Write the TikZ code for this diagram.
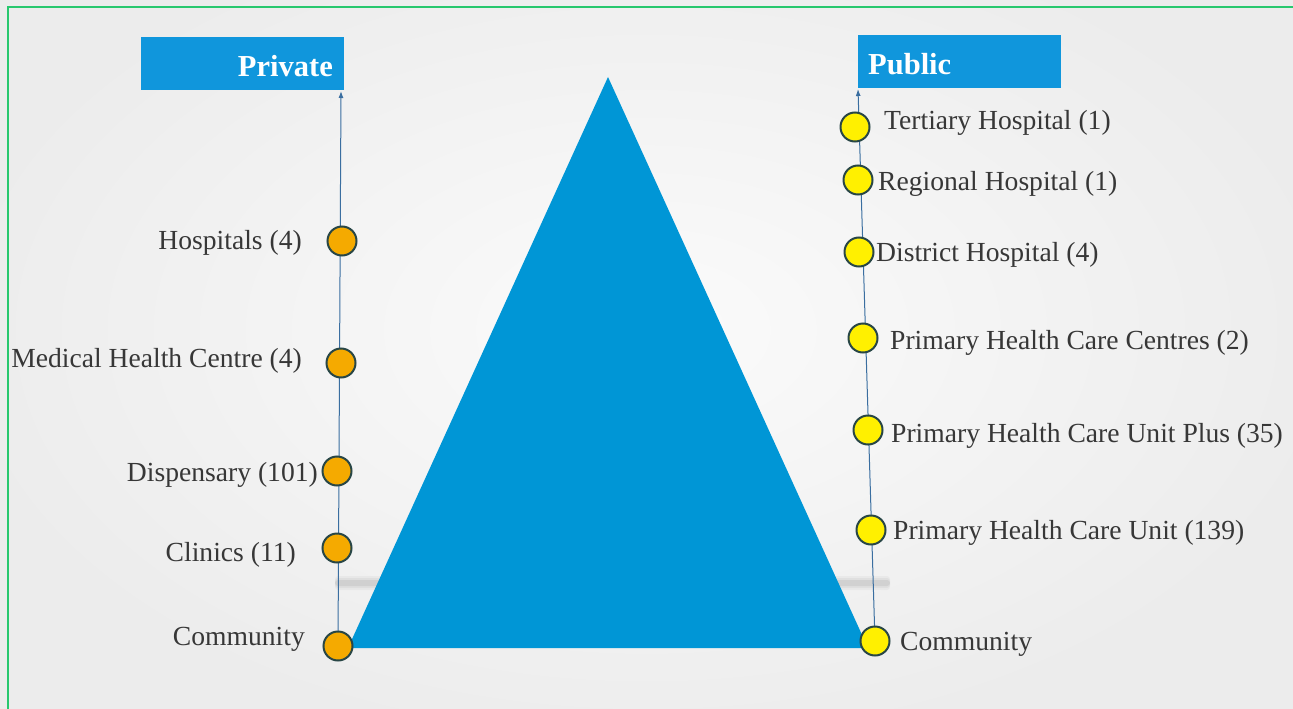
\documentclass[tikz,border=0pt]{standalone}
\usepackage{fontspec}
\setmainfont{Liberation Serif}
\usetikzlibrary{arrows.meta}
\definecolor{triblue}{RGB}{0,150,214}
\definecolor{boxblue}{RGB}{16,150,220}
\definecolor{axisblue}{RGB}{58,110,160}
\definecolor{dotorange}{RGB}{245,170,0}
\definecolor{dotyellow}{RGB}{255,240,0}
\definecolor{dotline}{RGB}{40,70,70}
\definecolor{txt}{RGB}{55,55,55}
\definecolor{bggray}{RGB}{236,236,236}
\definecolor{frame}{RGB}{40,200,110}
\pgfdeclarelayer{bglayer}
\pgfdeclarelayer{midlayer}
\pgfsetlayers{bglayer,midlayer,main}
\tikzset{
  dotbase/.style={circle, minimum size=29pt, inner sep=0pt, draw=dotline, line width=2pt},
  odot/.style={dotbase, fill=dotorange},
  ydot/.style={dotbase, fill=dotyellow},
  lbl/.style={text=txt, font=\fontsize{27.6}{30}\selectfont, inner sep=0pt},
  lleft/.style={lbl, anchor=east},
  lright/.style={lbl, anchor=west},
  axisline/.style={draw=axisblue, line width=1pt, -{Latex[length=7pt,width=5pt]}},
  headbox/.style={fill=boxblue, inner sep=0pt, minimum width=203pt, minimum height=53pt},
  headtxt/.style={text=white, inner sep=0pt, font=\bfseries\fontsize{30.5}{33}\selectfont}
}
\begin{document}
\begin{tikzpicture}[x=1pt,y=-1pt]
\useasboundingbox (0,0) rectangle (1293,709);
\begin{pgfonlayer}{bglayer}
  \fill[bggray] (0,0) rectangle (1293,709);
  \shade[inner color=white!80!bggray, outer color=bggray] (646,330) ellipse (700 and 420);
  \draw[frame, line width=2pt] (8,709) -- (8,7) -- (1293,7);
\end{pgfonlayer}
\begin{pgfonlayer}{midlayer}
  % shadow of plane
  \foreach \w/\o in {7/0.03,5/0.04,3/0.06}{
    \fill[black, opacity=\o, rounded corners=3pt] (335,583-\w) rectangle (890,583+\w);
  }
  % pyramid
  \fill[triblue] (608,77) -- (868,648) -- (348,648) -- cycle;
\end{pgfonlayer}

% header boxes
\node[headbox] (privbox) at (242.5,63.5) {};
\node[headtxt, anchor=east] (privtxt) at (333,66) {Private};
\node[headbox] (pubbox) at (959.5,61.5) {};
\node[headtxt, anchor=west] (pubtxt) at (868,64) {Public};

% left axis
\coordinate (ltop) at (341,91);
\node[odot] (lcomm) at (338,646) {};
\node[odot] (lclin) at (337,548) {};
\node[odot] (ldisp) at (337,471) {};
\node[odot] (lmed) at (341,363) {};
\node[odot] (lhosp) at (342,241) {};
\begin{pgfonlayer}{midlayer}
  \draw[axisline] (lcomm.center) -- (ltop);
\end{pgfonlayer}

\node[lleft] (tcomm) at (305,639) {Community};
\node[lleft] (tclin) at (296,555) {Clinics (11)};
\node[lleft] (tdisp) at (318,475) {Dispensary (101)};
\node[lleft] (tmed) at (302,361) {Medical Health Centre (4)};
\node[lleft] (thosp) at (302,243) {Hospitals (4)};

% right axis
\coordinate (rtop) at (858,89);
\node[ydot] (rcomm) at (875,641) {};
\node[ydot] (rphcu) at (871,530) {};
\node[ydot] (rplus) at (868,430) {};
\node[ydot] (rphcc) at (863,338) {};
\node[ydot] (rdist) at (859,252) {};
\node[ydot] (rreg) at (858,180) {};
\node[ydot] (rter) at (855,127) {};
\begin{pgfonlayer}{midlayer}
  \draw[axisline] (rcomm.center) -- (rtop);
\end{pgfonlayer}

\node[lright] (ttcomm) at (900,644) {Community};
\node[lright] (ttphcu) at (893,533) {Primary Health Care Unit (139)};
\node[lright] (ttplus) at (891,436) {Primary Health Care Unit Plus (35)};
\node[lright] (ttphcc) at (890,343) {Primary Health Care Centres (2)};
\node[lright] (ttdist) at (876,255) {District Hospital (4)};
\node[lright] (ttreg) at (878,184) {Regional Hospital (1)};
\node[lright] (ttter) at (884,123) {Tertiary Hospital (1)};
\end{tikzpicture}
\end{document}
